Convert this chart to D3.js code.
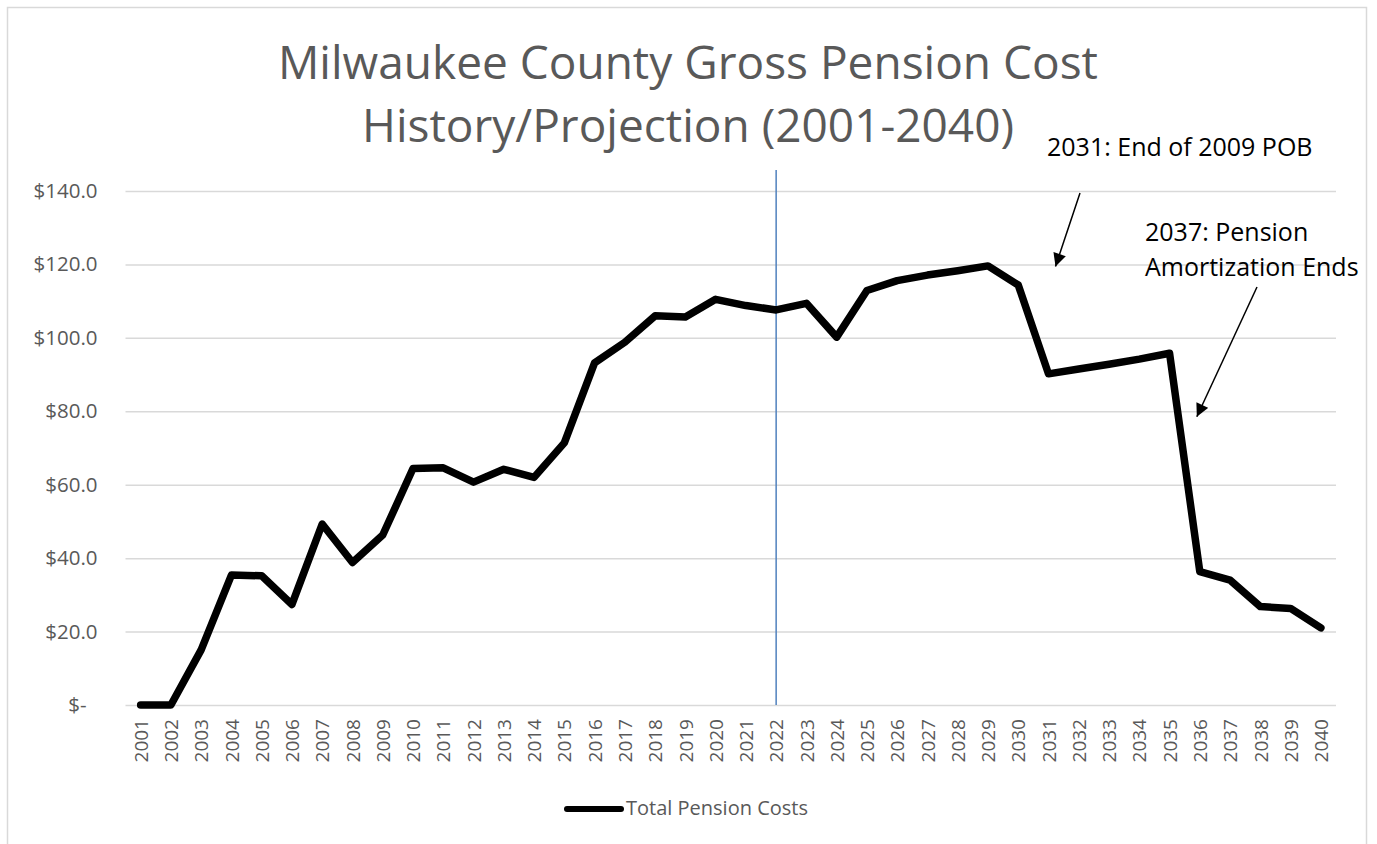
<!DOCTYPE html>
<html>
<head>
<meta charset="utf-8">
<script src="https://cdn.jsdelivr.net/npm/d3@7"></script>
<style>
  body { margin: 0; background: #fff; }
  text { font-family: "Open Sans", "Noto Sans", sans-serif; }
  .axis text { fill: #595959; }
</style>
</head>
<body>
<svg id="chart" width="1377" height="844"></svg>
<script>
// data
var years = ["2001","2002","2003","2004","2005","2006","2007","2008","2009","2010",
             "2011","2012","2013","2014","2015","2016","2017","2018","2019","2020",
             "2021","2022","2023","2024","2025","2026","2027","2028","2029","2030",
             "2031","2032","2033","2034","2035","2036","2037","2038","2039","2040"];
var pensionCosts = [0, 0, 15.0, 35.4, 35.2, 27.4, 49.3, 38.8, 46.3, 64.4,
                    64.6, 60.7, 64.2, 62.0, 71.4, 93.2, 98.8, 106.0, 105.7, 110.5,
                    108.8, 107.6, 109.4, 100.2, 112.9, 115.6, 117.1, 118.3, 119.6, 114.4,
                    90.2, 91.5, 92.8, 94.2, 95.8, 36.3, 34.0, 26.8, 26.3, 21.0];
var yTicks = [0, 20, 40, 60, 80, 100, 120, 140];
var seriesName = "Total Pension Costs";
var titleLines = ["Milwaukee County Gross Pension Cost", "History/Projection (2001-2040)"];
var splitYear = "2022";

var svg = d3.select("#chart");

// plot area
var plotLeft = 125.5, plotRight = 1336, plotTop = 191, plotBottom = 705;

// chart border
svg.append("rect")
  .attr("x", 7.5).attr("y", 7.5)
  .attr("width", 1359).attr("height", 860)
  .attr("fill", "none")
  .attr("stroke", "#d9d9d9")
  .attr("stroke-width", 1.5);

var x = d3.scalePoint().domain(years).range([plotLeft, plotRight]).padding(0.5);
var y = d3.scaleLinear().domain([0, 140]).range([plotBottom, plotTop]);

// axis y + gridlines
var yAxis = d3.axisLeft(y)
  .tickValues(yTicks)
  .tickSize(-(plotRight - plotLeft))
  .tickPadding(28)
  .tickFormat(function (d) {
    return d === 0 ? "$-" : "$" + d.toFixed(1);
  });

var gy = svg.append("g")
  .attr("class", "axis")
  .attr("transform", "translate(" + plotLeft + ",0)")
  .call(yAxis);
gy.select(".domain").remove();
gy.selectAll(".tick line").attr("stroke", "#d9d9d9").attr("stroke-width", 1.5);
gy.selectAll(".tick text")
  .style("font-size", "20.5px")
  .attr("dx", function (d) { return d === 0 ? -11 : 0; });

// axis x
var gx = svg.append("g")
  .attr("class", "axis")
  .attr("transform", "translate(0," + plotBottom + ")")
  .call(d3.axisBottom(x).tickSize(0));
gx.select(".domain").remove();
gx.selectAll(".tick text")
  .style("font-size", "19px")
  .attr("text-anchor", "end")
  .attr("transform", "rotate(-90)")
  .attr("x", -14)
  .attr("y", 0)
  .attr("dy", "0.35em");

// split line
svg.append("line")
  .attr("x1", x(splitYear)).attr("x2", x(splitYear))
  .attr("y1", 170).attr("y2", plotBottom)
  .attr("stroke", "#4f81bd")
  .attr("stroke-width", 1.5);

// series line
var line = d3.line()
  .x(function (d, i) { return x(years[i]); })
  .y(function (d) { return y(d); });

svg.append("path")
  .datum(pensionCosts)
  .attr("fill", "none")
  .attr("stroke", "#000")
  .attr("stroke-width", 7.5)
  .attr("stroke-linejoin", "round")
  .attr("stroke-linecap", "round")
  .attr("d", line);

// title
svg.selectAll(".title")
  .data(titleLines)
  .enter()
  .append("text")
  .attr("class", "title")
  .attr("x", 688)
  .attr("y", function (d, i) { return 79 + i * 63; })
  .attr("text-anchor", "middle")
  .attr("fill", "#595959")
  .style("font-size", "46px")
  .text(function (d) { return d; });

// annotations
svg.append("defs").append("marker")
  .attr("id", "arrow")
  .attr("viewBox", "0 0 10 10")
  .attr("refX", 10).attr("refY", 5)
  .attr("markerWidth", 15).attr("markerHeight", 13)
  .attr("markerUnits", "userSpaceOnUse")
  .attr("orient", "auto")
  .append("path")
  .attr("d", "M0,0 L10,5 L0,10 z")
  .attr("fill", "#000");

function arrow(x1, y1, x2, y2) {
  svg.append("line")
    .attr("x1", x1).attr("y1", y1)
    .attr("x2", x2).attr("y2", y2)
    .attr("stroke", "#000")
    .attr("stroke-width", 1.5)
    .attr("marker-end", "url(#arrow)");
}

svg.append("text")
  .attr("x", 1047).attr("y", 156)
  .attr("fill", "#000")
  .style("font-size", "25px")
  .text("2031: End of 2009 POB");
arrow(1080, 193, x("2031") + 7, y(120) + 2);

svg.append("text")
  .attr("x", 1145).attr("y", 241)
  .attr("fill", "#000")
  .style("font-size", "25px")
  .text("2037: Pension");
svg.append("text")
  .attr("x", 1145).attr("y", 276)
  .attr("fill", "#000")
  .style("font-size", "25px")
  .text("Amortization Ends");
arrow(1257, 287, x("2036") - 3, y(78.5));

// legend
svg.append("line")
  .attr("x1", 567).attr("x2", 621)
  .attr("y1", 809).attr("y2", 809)
  .attr("stroke", "#000")
  .attr("stroke-width", 6)
  .attr("stroke-linecap", "round");
svg.append("text")
  .attr("x", 626).attr("y", 815)
  .attr("fill", "#595959")
  .style("font-size", "20px")
  .text(seriesName);
</script>
</body>
</html>
